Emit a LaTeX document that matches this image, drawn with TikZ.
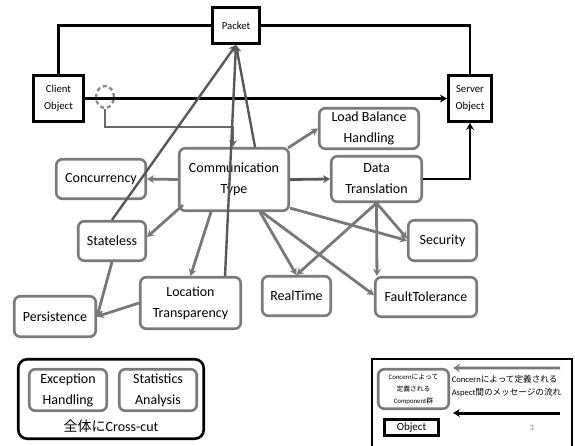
\documentclass[tikz,border=0pt]{standalone}
\usepackage{fontspec}
\setmainfont{Carlito}
\newfontfamily\cjk{Noto Sans CJK JP}
\usetikzlibrary{arrows.meta,shapes.geometric}
\definecolor{boxgray}{RGB}{122,122,122}
\definecolor{arrgray}{RGB}{120,120,120}
\definecolor{dkgray}{RGB}{88,88,88}
\definecolor{ringgray}{RGB}{140,140,140}
\begin{document}
\begin{tikzpicture}[x=1pt,y=-1pt,
  tip/.style={-{Stealth[length=7pt,width=8pt,inset=2.5pt]}},
  concern/.style={draw=boxgray,line width=2.6pt,rounded corners=6pt,fill=white,
    align=center,inner sep=1pt,font=\fontsize{14}{21}\selectfont},
  obj/.style={draw=black,line width=2.6pt,fill=white,align=center,inner sep=1pt,
    font=\fontsize{10.7}{17}\selectfont},
  link/.style={draw=black,line width=2.6pt},
  msg/.style={draw=arrgray,line width=2.8pt,tip},
  pkt/.style={draw=dkgray,line width=2.4pt,tip},
]
\useasboundingbox (0,0) rectangle (575,445);

% objects
\node[obj,minimum width=47.5pt,minimum height=36.5pt] (packet) at (236,25.5) {Packet};
\node[obj,minimum width=50.5pt,minimum height=46.5pt] (client) at (58.5,98.5) {Client\\Object};
\node[obj,minimum width=43.5pt,minimum height=46.5pt] (server) at (470,98.5) {Server\\Object};

% concerns
\node[concern,minimum width=109.5pt,minimum height=62.5pt] (comm) at (234,179.5) {Communication\\Type};
\node[concern,minimum width=99.5pt,minimum height=40.5pt] (lb) at (369,128.5) {Load Balance\\Handling};
\node[concern,minimum width=90.5pt,minimum height=45.5pt] (dt) at (376.5,179) {Data\\Translation};
\node[concern,minimum width=89.5pt,minimum height=39.5pt] (conc) at (101,179) {Concurrency};
\node[concern,minimum width=67.5pt,minimum height=39.5pt] (stateless) at (112,241) {Stateless};
\node[concern,minimum width=100.5pt,minimum height=51.5pt] (loc) at (190.5,303) {Location\\Transparency};
\node[concern,minimum width=81.5pt,minimum height=40.5pt] (pers) at (55,316.5) {Persistence};
\node[concern,minimum width=68.5pt,minimum height=39.5pt] (rt) at (296.5,296) {RealTime};
\node[concern,minimum width=101.5pt,minimum height=39.5pt] (ft) at (426,297) {FaultTolerance};
\node[concern,minimum width=68.5pt,minimum height=40.5pt] (sec) at (442.5,240.5) {Security};

% interception point on the client-server message
\node[ellipse,draw=ringgray,line width=2.4pt,dash pattern=on 4pt off 3pt,
  minimum width=18pt,minimum height=22pt,inner sep=0pt] (hook) at (105,97) {};
\coordinate (bend) at (233,127);

% object links
\draw[link] (client.north) |- (packet.west);
\draw[link] (packet.east) -| (server.north);
\draw[link,tip] (client.east) -- (server.west);
\draw[link,tip] (dt.east) -| (server.south);

% hook into the communication concern
\draw[msg,draw=dkgray!90] (hook.south) |- (bend) -- (bend |- comm.north);

% concern dependencies
\draw[msg] ([xshift=-2pt,yshift=-1pt]comm.north east) -- (lb.west);
\draw[msg,draw=dkgray] (comm.east) -- (dt.west);
\draw[msg] (comm.west) -- (conc.east);
\draw[msg] ([xshift=5pt,yshift=7pt]comm.south west) -- ([yshift=4pt]stateless.east);
\draw[msg] ([xshift=-23pt]comm.south) -- (loc.north);
\draw[msg] ([xshift=26pt]comm.south) -- (rt.north);
\draw[msg] ([xshift=28pt]comm.south) -- ([yshift=2pt]ft.west);
\draw[msg] ([yshift=4pt]comm.south east) -- (sec.west);
\draw[msg] (dt.south) -- ([yshift=2pt]sec.west);
\draw[msg] (dt.south) -- (rt.north);
\draw[msg] (dt.south) -- ([xshift=3pt]ft.north west);
\draw[msg] (stateless.south) -- (pers.east);
\draw[msg] (loc.west) -- (pers.east);

% concerns that build the packet
\draw[pkt] (stateless.north) -- (packet.south);
\draw[pkt] ([xshift=34.5pt]loc.north) -- (packet.south);
\draw[pkt] ([xshift=21pt]comm.north) -- (packet.south);

% cross-cutting concerns
\node[draw=black,line width=2.6pt,rounded corners=9pt,minimum width=185.5pt,
  minimum height=79.5pt] (crosscut) at (111,399) {};
\node[concern,minimum width=77.5pt,minimum height=41.5pt] (exc) at (68,390) {Exception\\Handling};
\node[concern,minimum width=77.5pt,minimum height=41.5pt] (stat) at (158,390) {Statistics\\Analysis};
\node[font=\fontsize{14}{16}\selectfont,inner sep=0pt] (cclabel) at (111,426) {{\cjk 全体に}Cross-cut};

% legend
\draw[link] (372,447) |- (572,359) -- (572,447);
\node[concern,minimum width=70.5pt,minimum height=39.5pt,
  font=\fontsize{6.8}{12}\selectfont] (comp) at (413.5,389)
  {Concern{\cjk によって}\\{\cjk 定義される}\\Component{\cjk 群}};
\coordinate (ga) at (560,368);
\draw[msg] (ga) -- ([xshift=3pt]comp.north east);
\node[font=\fontsize{8.6}{13}\selectfont,align=left,inner sep=0pt] (legtext) at (506.5,386.5)
  {Concern{\cjk によって定義される}\\Aspect{\cjk 間のメッセージの流れ}};
\coordinate (ba1) at (560,413);
\coordinate (ba2) at (453,413);
\draw[link,line width=3pt,tip] (ba1) -- (ba2);
\node[obj,minimum width=54.5pt,minimum height=16.5pt,
  font=\fontsize{11}{13}\selectfont] (objkey) at (411.5,427.5) {Object};
\node[text=gray,font=\fontsize{8}{10}\selectfont] (pagenum) at (532,428) {3};
\end{tikzpicture}
\end{document}
